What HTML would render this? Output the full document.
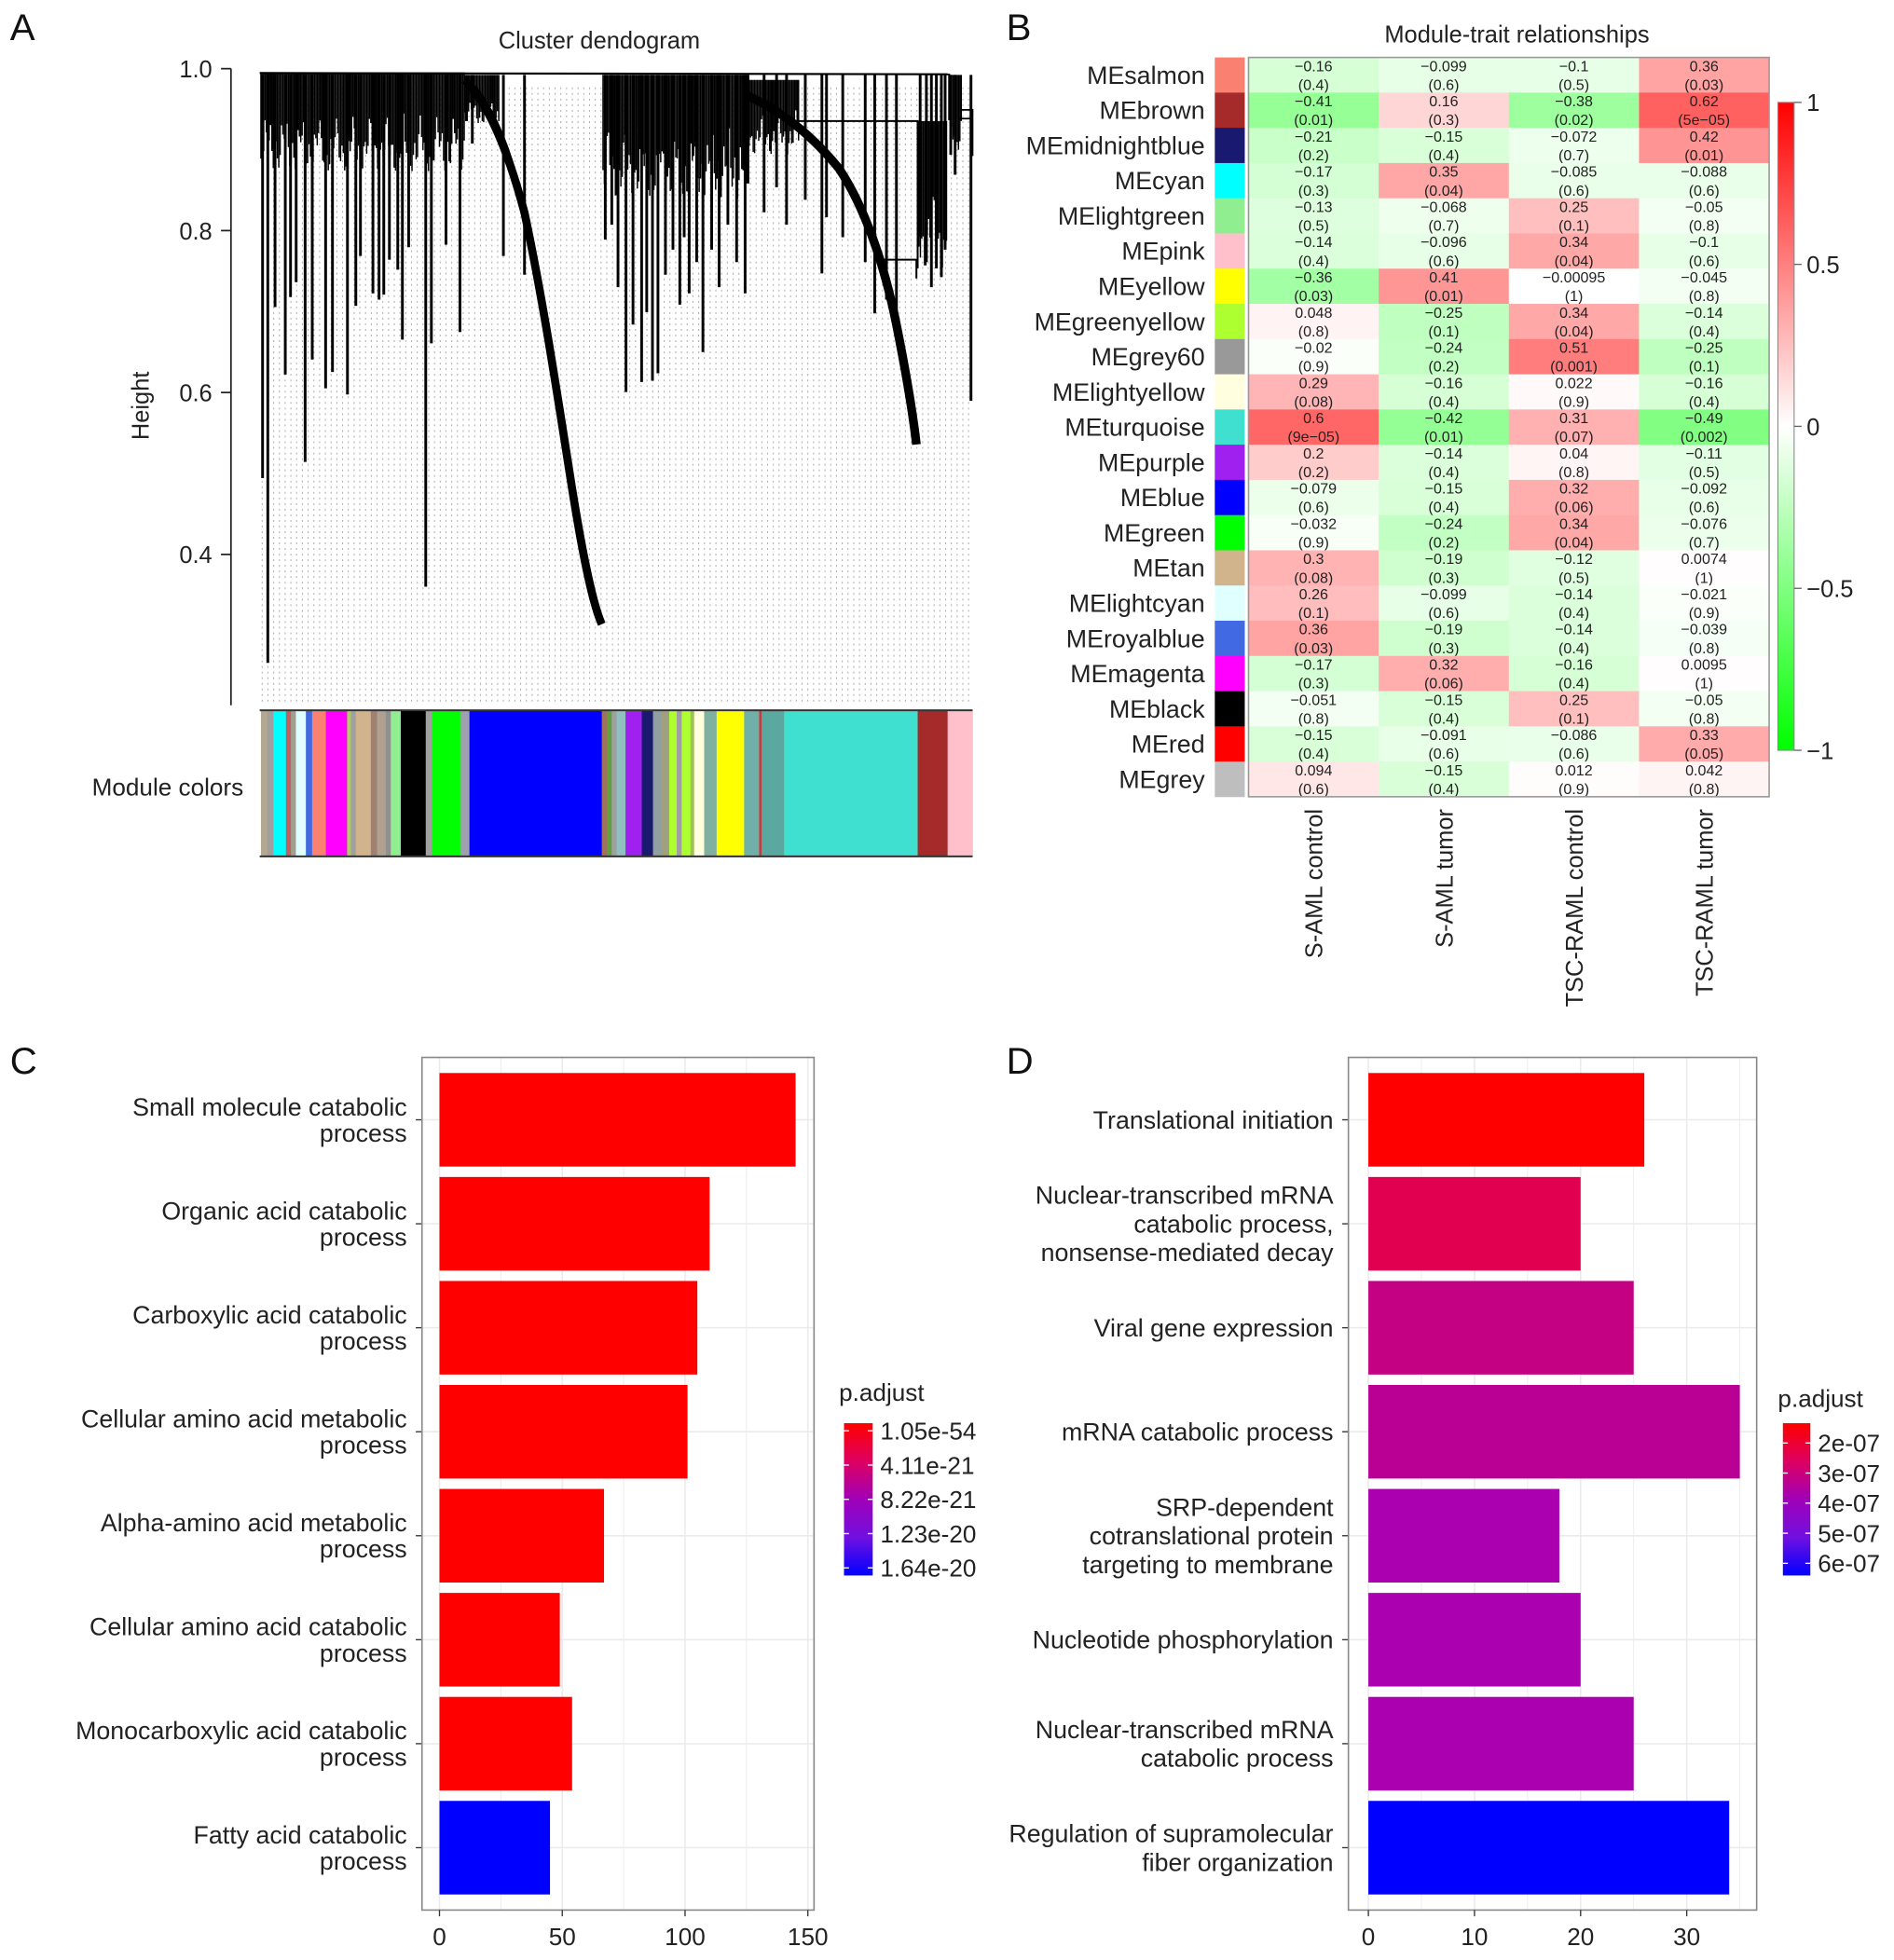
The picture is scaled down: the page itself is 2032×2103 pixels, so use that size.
<!DOCTYPE html>
<html><head><meta charset="utf-8"><style>
html,body{margin:0;padding:0;background:#fff;}
svg{display:block;font-family:"Liberation Sans",Arial,sans-serif;}
</style></head><body>
<svg id="fig" xmlns="http://www.w3.org/2000/svg" width="2032" height="2103" viewBox="0 0 1517 1570" preserveAspectRatio="none">
<rect x="0" y="0" width="1517" height="1570" fill="#fff"/>
<g font-size="30" fill="#111">
<text x="8" y="32">A</text>
<text x="806" y="32">B</text>
<text x="8" y="860">C</text>
<text x="806" y="860">D</text>
</g>
<g id="pa"></g>
<g id="pb"></g>
<g id="pc"></g>
<g id="pd"></g>
</svg>
<script>
// ---------- Panel B data ----------
const modules=["MEsalmon","MEbrown","MEmidnightblue","MEcyan","MElightgreen","MEpink","MEyellow","MEgreenyellow","MEgrey60","MElightyellow","MEturquoise","MEpurple","MEblue","MEgreen","MEtan","MElightcyan","MEroyalblue","MEmagenta","MEblack","MEred","MEgrey"];
const moduleColors=["#fa8072","#a52a2a","#191970","#00ffff","#90ee90","#ffc0cb","#ffff00","#adff2f","#999999","#ffffe0","#40e0d0","#a020f0","#0000ff","#00ff00","#d2b48c","#e0ffff","#4169e1","#ff00ff","#000000","#ff0000","#bebebe"];
const traits=["S-AML control","S-AML tumor","TSC-RAML control","TSC-RAML tumor"];
const corS=["-0.16","-0.41","-0.21","-0.17","-0.13","-0.14","-0.36","0.048","-0.02","0.29","0.6","0.2","-0.079","-0.032","0.3","0.26","0.36","-0.17","-0.051","-0.15","0.094"];
const corT=["-0.099","0.16","-0.15","0.35","-0.068","-0.096","0.41","-0.25","-0.24","-0.16","-0.42","-0.14","-0.15","-0.24","-0.19","-0.099","-0.19","0.32","-0.15","-0.091","-0.15"];
const corTC=["-0.1","-0.38","-0.072","-0.085","0.25","0.34","-0.00095","0.34","0.51","0.022","0.31","0.04","0.32","0.34","-0.12","-0.14","-0.14","-0.16","0.25","-0.086","0.012"];
const corTT=["0.36","0.62","0.42","-0.088","-0.05","-0.1","-0.045","-0.14","-0.25","-0.16","-0.49","-0.11","-0.092","-0.076","0.0074","-0.021","-0.039","0.0095","-0.05","0.33","0.042"];
const pS=["0.4","0.01","0.2","0.3","0.5","0.4","0.03","0.8","0.9","0.08","9e-05","0.2","0.6","0.9","0.08","0.1","0.03","0.3","0.8","0.4","0.6"];
const pT=["0.6","0.3","0.4","0.04","0.7","0.6","0.01","0.1","0.2","0.4","0.01","0.4","0.4","0.2","0.3","0.6","0.3","0.06","0.4","0.6","0.4"];
const pTC=["0.5","0.02","0.7","0.6","0.1","0.04","1","0.04","0.001","0.9","0.07","0.8","0.06","0.04","0.5","0.4","0.4","0.4","0.1","0.6","0.9"];
const pTT=["0.03","5e-05","0.01","0.6","0.8","0.6","0.8","0.4","0.1","0.4","0.002","0.5","0.6","0.7","1","0.9","0.8","1","0.8","0.05","0.8"];
const colorbarTicks=[1,0.5,0,-0.5,-1];
// ---------- Panel C data ----------
const cTerms=[["Small molecule catabolic","process"],["Organic acid catabolic","process"],["Carboxylic acid catabolic","process"],["Cellular amino acid metabolic","process"],["Alpha-amino acid metabolic","process"],["Cellular amino acid catabolic","process"],["Monocarboxylic acid catabolic","process"],["Fatty acid catabolic","process"]];
const cCounts=[145,110,105,101,67,49,54,45];
const cPadj=[0,0,0,0,0,0,0,1];
const cTicks=[0,50,100,150];
const cLegend=["1.05e-54","4.11e-21","8.22e-21","1.23e-20","1.64e-20"];
// ---------- Panel D data ----------
const dTerms=[["Translational initiation"],["Nuclear-transcribed mRNA","catabolic process,","nonsense-mediated decay"],["Viral gene expression"],["mRNA catabolic process"],["SRP-dependent","cotranslational protein","targeting to membrane"],["Nucleotide phosphorylation"],["Nuclear-transcribed mRNA","catabolic process"],["Regulation of supramolecular","fiber organization"]];
const dCounts=[26,20,25,35,18,20,25,34];
const dPadj=[0,0.22,0.37,0.42,0.5,0.5,0.5,1];
const dTicks=[0,10,20,30];
const dLegend=["2e-07","3e-07","4e-07","5e-07","6e-07"];

const NS="http://www.w3.org/2000/svg";
function mk(tag,attrs,parent,txt){const e=document.createElementNS(NS,tag);for(const k in attrs)e.setAttribute(k,attrs[k]);if(txt!==undefined)e.textContent=txt;parent.appendChild(e);return e;}

// ================= Panel A =================
(function(){
const g=document.getElementById('pa');
const yH=h=>55+(1-h)*648.5;
let t=mk('text',{x:480,y:39,'font-size':19,'text-anchor':'middle',fill:'#222'},g,'Cluster dendogram');


mk('line',{x1:185,y1:yH(1),x2:185,y2:565,stroke:'#222','stroke-width':1.3},g);
[1.0,0.8,0.6,0.4].forEach(v=>{
  mk('line',{x1:185,y1:yH(v),x2:177,y2:yH(v),stroke:'#222','stroke-width':1.3},g);
  const tt=mk('text',{x:170,y:yH(v)+7,'font-size':19,'text-anchor':'end',fill:'#222'},g,v.toFixed(1));
  
  
});
t=mk('text',{x:119,y:325,'font-size':19,'text-anchor':'middle',fill:'#222',transform:'rotate(-90 119 325)'},g,'Height');


for(let x=210;x<=777;x+=4.6){mk('line',{x1:x,y1:70,x2:x,y2:565,stroke:'#b0b0b0','stroke-width':0.8,'stroke-dasharray':'1.5 3'},g);}
const dg=mk('g',{stroke:'#000','stroke-width':1.3,fill:'none'},g);


mk('line',{x1:208,y1:58.5,x2:761,y2:59.5,'stroke-width':1.6},dg);
// dense tops
function dense(a,b,ytop,depthFn){for(let x=a;x<=b;x+=1.1){const d=depthFn(x);mk('line',{x1:x,y1:ytop,x2:x,y2:ytop+d,'stroke-width':1.1},dg);}}
const h=x=>Math.abs(Math.sin(x*0.71))*0.5+Math.abs(Math.sin(x*0.23+1))*0.5;
dense(209,372,58,x=>25+55*h(x));
dense(372,400,60,x=>15+25*h(x));
dense(483,600,60,x=>30+70*h(x));
dense(600,640,64,x=>20+40*h(x));
dense(735,759,97,x=>40+80*h(x));
dense(760,770,60,x=>20+40*h(x));
// drops
const drops=[[210.3,383],[214.5,531],[220.3,246],[228.5,300],[232.7,238],[237.2,226],[244.4,370],[250.1,288],[260.8,311],[266.3,298],[278.3,316],[285,245],[288.7,205],[298.7,235],[303.6,240],[307.4,236],[311.9,208],[318.6,216],[322.3,272],[327.3,198],[341,470],[345.5,275],[357.2,196],[368.4,266],[378.3,115],[403.2,205],[420.1,220],
[484.8,192],[490,180],[495,230],[501.4,314],[507,260],[513.9,306],[518,250],[522.6,305],[527,299],[533,220],[539,200],[544.5,244],[548,190],[552,235],[558,210],[563,282],[570,200],[576,230],[583,180],[590,210],[596.8,235],[598.5,147],[612,170],[622,150],[630,180],[645,160],[658.3,219],[662,174],[675,190],[693,210],[700.6,251],[710,240],[718,270],
[737,190],[742,210],[746,230],[750,215],[754,222],[757,200],[761.5,124],[765,140],[777.7,321]];
drops.forEach(d=>mk('line',{x1:d[0],y1:60,x2:d[0],y2:d[1],'stroke-width':2.2},dg));
// big curve 1
mk('path',{d:'M372,64 C388,80 404,110 420,170 C435,240 447,320 458,390 C466,440 474,482 482,500','stroke-width':6.5},dg);
mk('path',{d:'M380,70 C392,85 404,110 412,140','stroke-width':4},dg);
// curve 2
mk('path',{d:'M597,76 C625,88 650,108 672,135 C692,165 708,210 718,260 C726,300 731,330 734,356','stroke-width':7},dg);
mk('polyline',{points:'637,97 735,97 735,215','stroke-width':1.5},dg);
mk('polyline',{points:'703,208 734,208 734,223','stroke-width':1.5},dg);
mk('polyline',{points:'770,88 779,88 779,125','stroke-width':1.3},dg);
mk('polyline',{points:'768,95 778,95','stroke-width':1.3},dg);
// module color bar
const segs=[[209,"#b5a890"],[214,"#a0a0a0"],[219,"#00ffff"],[229,"#c06060"],[233,"#a0a090"],[237,"#e0ffff"],[245,"#4169e1"],[250,"#fa8072"],[261,"#ff00ff"],[278,"#adcf60"],[281,"#a0a0a0"],[285,"#d2b48c"],[297,"#a08070"],[302,"#b0a090"],[309,"#909090"],[313,"#90ee90"],[321,"#000000"],[341,"#a0a0a0"],[346,"#00ff00"],[369,"#a0a0b0"],[376,"#0000ff"],[482,"#a07060"],[486,"#60a040"],[490,"#a0a0a0"],[494,"#90c0c0"],[501,"#a020f0"],[514,"#191970"],[523,"#90a0a0"],[530,"#a0a080"],[536,"#adff2f"],[542,"#a0a0a0"],[546,"#adff2f"],[553,"#a0c060"],[556,"#ffffe0"],[564,"#80b0a0"],[574,"#ffff00"],[596,"#70b0a8"],[608,"#c04040"],[610,"#5aa8a0"],[628,"#40e0d0"],[735,"#a52a2a"],[759,"#ffc0cb"],[779,null]];
for(let i=0;i<segs.length-1;i++){const r=mk('rect',{x:segs[i][0],y:569,width:segs[i+1][0]-segs[i][0]+0.3,height:117,fill:segs[i][1]},g);

}
mk('line',{x1:208,y1:569,x2:779,y2:569,stroke:'#333','stroke-width':1.5},g);
mk('line',{x1:208,y1:686,x2:779,y2:686,stroke:'#333','stroke-width':1.5},g);
t=mk('text',{x:195,y:637,'font-size':19.5,'text-anchor':'end',fill:'#222'},g,'Module colors');


})();

// ================= Panel B =================
(function(){
const g=document.getElementById('pb');
const x0=1000,y0=46,cw=104.25,rh=28.2;
const cors=[corS,corT,corTC,corTT], ps=[pS,pT,pTC,pTT];
function col(v){if(v>=0){const c=Math.round(255*(1-v));return `rgb(255,${c},${c})`;}const c=Math.round(255*(1+v));return `rgb(${c},255,${c})`;}
let t=mk('text',{x:1215,y:34,'font-size':19,'text-anchor':'middle',fill:'#222'},g,'Module-trait relationships');


modules.forEach((m,i)=>{
  const y=y0+i*rh;
  const sw=mk('rect',{x:973,y:y,width:24,height:rh+0.3,fill:moduleColors[i]},g);
  
  
  const lb=mk('text',{x:965,y:y+rh/2+7,'font-size':20,'text-anchor':'end',fill:'#222'},g,m);
  
  
  for(let j=0;j<4;j++){
    const v=parseFloat(cors[j][i]);
    const c=mk('rect',{x:x0+j*cw,y:y,width:cw+0.3,height:rh+0.3,fill:col(v)},g);
    
    
    const cx=x0+j*cw+cw/2;
    const s=cors[j][i].replace('-','\u2212');
    const a=mk('text',{x:cx,y:y+11,'font-size':12,'text-anchor':'middle',fill:'#222'},g,s);
    
    
    const b=mk('text',{x:cx,y:y+26,'font-size':12,'text-anchor':'middle',fill:'#222'},g,'('+ps[j][i].replace('-','\u2212')+')');
    
    
  }
});
mk('rect',{x:x0,y:y0,width:4*cw,height:21*rh,fill:'none',stroke:'#999','stroke-width':1.2},g);
traits.forEach((tr,j)=>{
  const cx=x0+j*cw+cw/2+7, ty=648;
  const e=mk('text',{x:cx,y:ty,'font-size':19,'text-anchor':'end',fill:'#222',transform:`rotate(-90 ${cx} ${ty})`},g,tr);
  
  
});
const defs=mk('defs',{},g);
const lg=mk('linearGradient',{id:'rg',x1:0,y1:0,x2:0,y2:1},defs);
mk('stop',{offset:'0','stop-color':'#ff0000'},lg);mk('stop',{offset:'0.5','stop-color':'#ffffff'},lg);mk('stop',{offset:'1','stop-color':'#00ff00'},lg);
const cb0=82,cb1=601;
const cb=mk('rect',{x:1424,y:cb0,width:13,height:cb1-cb0,fill:'url(#rg)',stroke:'#888','stroke-width':0.8},g);


const yv=v=>cb0+(1-v)/2*(cb1-cb0);
colorbarTicks.forEach(v=>{
  mk('line',{x1:1437,y1:yv(v),x2:1443,y2:yv(v),stroke:'#666'},g);
  const e=mk('text',{x:1447,y:yv(v)+7,'font-size':19,fill:'#222'},g,String(v).replace('-','\u2212'));
  
  
});
})();

// ================= Bar panels =================
function barPanel(gid,box,terms,counts,colors,ticks,legend,legBox,gradId,gradStops,lineH,legFr){
const g=document.getElementById(gid);
const [bx0,by0,bx1,by1,px0,ppu]=box;
const xs=v=>px0+v*ppu;
mk('rect',{x:bx0,y:by0,width:bx1-bx0,height:by1-by0,fill:'#fff'},g);
const step=(ticks[1]-ticks[0])/2;
for(let v=ticks[0];xs(v)<bx1;v+=step){mk('line',{x1:xs(v),y1:by0,x2:xs(v),y2:by1,stroke:'#ebebeb','stroke-width':(Math.round(v/step)%2===0)?1.2:0.7},g);}
const n=counts.length, band=(by1-by0)/(n+0.2);
const yc=i=>by0+band*(i+0.6);
counts.forEach((c,i)=>{mk('line',{x1:bx0,y1:yc(i),x2:bx1,y2:yc(i),stroke:'#ebebeb','stroke-width':1.2},g);});
counts.forEach((c,i)=>{
  const y=yc(i), h=band*0.9;
  const r=mk('rect',{x:xs(0),y:y-h/2,width:xs(c)-xs(0),height:h,fill:colors[i]},g);
  
  
  mk('line',{x1:bx0-5,y1:y,x2:bx0,y2:y,stroke:'#333'},g);
  const lines=terms[i];
  lines.forEach((ln,k)=>{
    const e=mk('text',{x:bx0-12,y:y+7+(k-(lines.length-1)/2)*lineH,'font-size':20,'text-anchor':'end',fill:'#222'},g,ln);
    
    
  });
});
mk('rect',{x:bx0,y:by0,width:bx1-bx0,height:by1-by0,fill:'none',stroke:'#888','stroke-width':1.2},g);
ticks.forEach(v=>{
  mk('line',{x1:xs(v),y1:by1,x2:xs(v),y2:by1+5,stroke:'#333'},g);
  const e=mk('text',{x:xs(v),y:by1+28,'font-size':19.5,'text-anchor':'middle',fill:'#222'},g,String(v));
  
  
});
const [lx,ly,lw,lh2,ty]=legBox;
let t=mk('text',{x:lx-4,y:ty,'font-size':19.5,fill:'#222'},g,'p.adjust');


const defs=mk('defs',{},g);
const lg=mk('linearGradient',{id:gradId,x1:0,y1:0,x2:0,y2:1},defs);
gradStops.forEach((s,k)=>mk('stop',{offset:k/(gradStops.length-1),'stop-color':s},lg));
const lr=mk('rect',{x:lx,y:ly,width:lw,height:lh2,fill:`url(#${gradId})`},g);


legend.forEach((s,k)=>{
  const yy=ly+lh2*(legFr[0]+(legFr[1]-legFr[0])*k/(legend.length-1));
  mk('line',{x1:lx,y1:yy,x2:lx+4,y2:yy,stroke:'#fff'},g);mk('line',{x1:lx+lw-4,y1:yy,x2:lx+lw,y2:yy,stroke:'#fff'},g);
  const e=mk('text',{x:lx+lw+6,y:yy+7,'font-size':19.5,fill:'#222'},g,s);
  
  
});
}
function interp(p,stops){const k=p*(stops.length-1);const i=Math.min(Math.floor(k),stops.length-2);const f=k-i;const a=stops[i],b=stops[i+1];return `rgb(${Math.round(a[0]+(b[0]-a[0])*f)},${Math.round(a[1]+(b[1]-a[1])*f)},${Math.round(a[2]+(b[2]-a[2])*f)})`;}
const rb=[[255,0,0],[220,0,90],[170,0,175],[140,0,210],[0,0,255]];
barPanel('pc',[338,847,652,1530,352,1.967],cTerms,cCounts,cPadj.map(p=>interp(p,rb)),cTicks,cLegend,[676,1140,23,122,1122],'gc',['#ff0000','#dd0060','#a000b8','#7010e0','#0000ff'],21,[0.05,0.95]);
barPanel('pd',[1080,847,1407,1530,1096,8.5],dTerms,dCounts,dPadj.map(p=>interp(p,rb)),dTicks,dLegend,[1428,1140,22,122,1127],'gd',['#ff0000','#dd0060','#a000b8','#7010e0','#0000ff'],23,[0.13,0.92]);
</script>
</body></html>
